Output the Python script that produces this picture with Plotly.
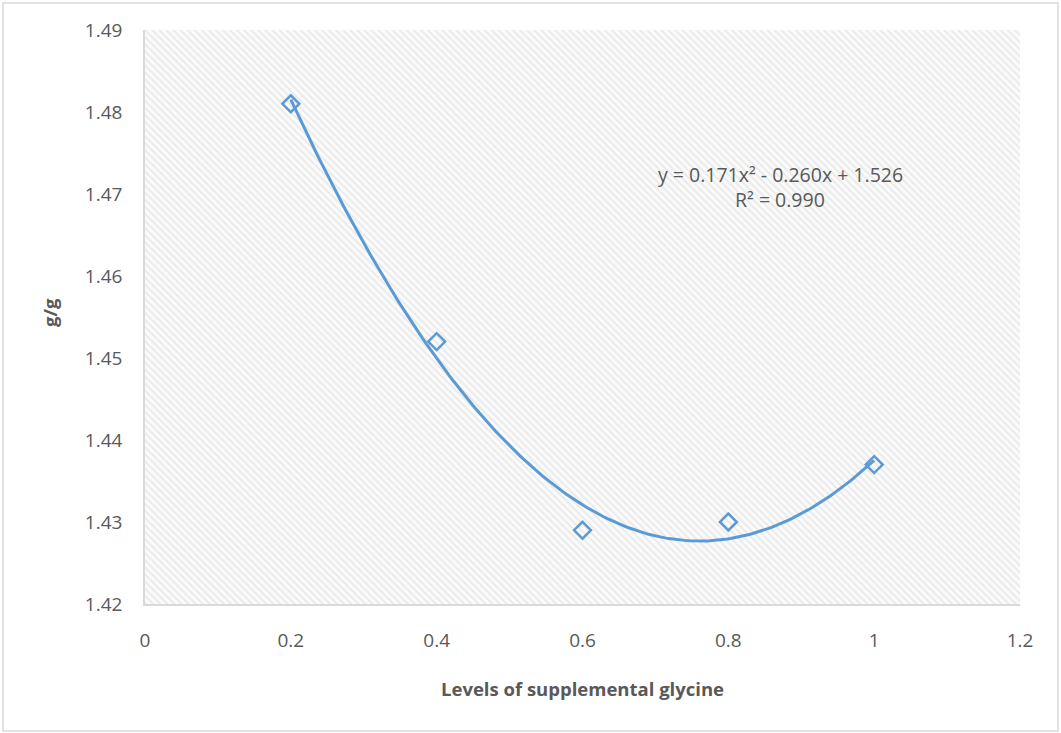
import numpy as np
import plotly.graph_objects as go

# Data
glycine_levels = [0.2, 0.4, 0.6, 0.8, 1.0]
ratio_values = [1.481, 1.452, 1.429, 1.430, 1.437]
x_tick_vals = [0, 0.2, 0.4, 0.6, 0.8, 1.0, 1.2]
x_tick_text = ["0", "0.2", "0.4", "0.6", "0.8", "1", "1.2"]
y_tick_vals = [1.42, 1.43, 1.44, 1.45, 1.46, 1.47, 1.48, 1.49]
y_tick_text = ["1.42", "1.43", "1.44", "1.45", "1.46", "1.47", "1.48", "1.49"]
equation_text = "y = 0.171x² - 0.260x + 1.526"
r2_text = "R² = 0.990"

X_RANGE = [0, 1.2]
Y_RANGE = [1.42, 1.49]

BLUE = "#5B9BD5"
TEXT = "#595959"
FONT = "Open Sans"

# Polynomial (order 2) trendline fitted to the data
coef = np.polyfit(glycine_levels, ratio_values, 2)
trend_x = np.linspace(min(glycine_levels), max(glycine_levels), 200)
trend_y = np.polyval(coef, trend_x)

fig = go.Figure()

# Hatched plot-area background
fig.add_trace(go.Scatter(
    x=[X_RANGE[0], X_RANGE[1], X_RANGE[1], X_RANGE[0], X_RANGE[0]],
    y=[Y_RANGE[0], Y_RANGE[0], Y_RANGE[1], Y_RANGE[1], Y_RANGE[0]],
    mode="none", fill="toself", fillcolor="white",
    fillpattern=dict(shape="\\", fgcolor="#d9d9d9", bgcolor="#fbfbfb", size=5, solidity=0.4),
    hoverinfo="skip", showlegend=False,
))

fig.add_trace(go.Scatter(
    x=trend_x, y=trend_y, mode="lines",
    line=dict(color=BLUE, width=3), hoverinfo="skip", showlegend=False,
))

fig.add_trace(go.Scatter(
    x=glycine_levels, y=ratio_values, mode="markers",
    marker=dict(symbol="diamond-open", size=13, color=BLUE, line=dict(color=BLUE, width=2.5)),
    showlegend=False,
))

fig.update_xaxes(
    range=X_RANGE, tickvals=x_tick_vals, ticktext=x_tick_text,
    showgrid=False, zeroline=False, showline=True, linecolor="#d9d9d9", linewidth=1.5,
    ticks="", ticklabelstandoff=18,
    tickfont=dict(family=FONT, size=19, color=TEXT),
)
fig.update_yaxes(
    range=Y_RANGE, tickvals=y_tick_vals, ticktext=y_tick_text,
    showgrid=False, zeroline=False, showline=True, linecolor="#d9d9d9", linewidth=1.5,
    ticks="", ticklabelstandoff=17,
    tickfont=dict(family=FONT, size=19, color=TEXT),
)

W, H = 1061, 733
L, R, T, B = 145, 41, 30, 129
pw, ph = W - L - R, H - T - B

def px_to_paper(px, py):
    return (px - L) / pw, (H - B - py) / ph

annotations = []
ax, ay = px_to_paper(582, 688)
annotations.append(dict(text="<b>Levels of supplemental glycine</b>", x=ax, y=ay, xref="paper", yref="paper",
                        xanchor="center", yanchor="middle",
                        showarrow=False, font=dict(family=FONT, size=18.5, color=TEXT)))
ax, ay = px_to_paper(50, 313)
annotations.append(dict(text="<b>g/g</b>", x=ax, y=ay, xref="paper", yref="paper", textangle=-90,
                        xanchor="center", yanchor="middle",
                        showarrow=False, font=dict(family=FONT, size=18.5, color=TEXT)))
ax, ay = px_to_paper(780, 174)
annotations.append(dict(text=equation_text, x=ax, y=ay, xref="paper", yref="paper",
                        xanchor="center", yanchor="middle",
                        showarrow=False, font=dict(family=FONT, size=19.5, color=TEXT)))
ax, ay = px_to_paper(780, 199)
annotations.append(dict(text=r2_text, x=ax, y=ay, xref="paper", yref="paper",
                        xanchor="center", yanchor="middle",
                        showarrow=False, font=dict(family=FONT, size=19.5, color=TEXT)))

x0, y1 = px_to_paper(3, 3)
x1, y0 = px_to_paper(1058, 731)

fig.update_layout(
    width=W, height=H,
    margin=dict(l=L, r=R, t=T, b=B),
    paper_bgcolor="white", plot_bgcolor="white",
    annotations=annotations,
    shapes=[dict(type="rect", xref="paper", yref="paper", x0=x0, x1=x1, y0=y0, y1=y1,
                 line=dict(color="#d9d9d9", width=1.5), fillcolor="rgba(0,0,0,0)", layer="below")],
)

fig.write_html("out.html", config={"displayModeBar": False},
               post_script="document.body.style.margin='0';document.body.style.padding='0';")
